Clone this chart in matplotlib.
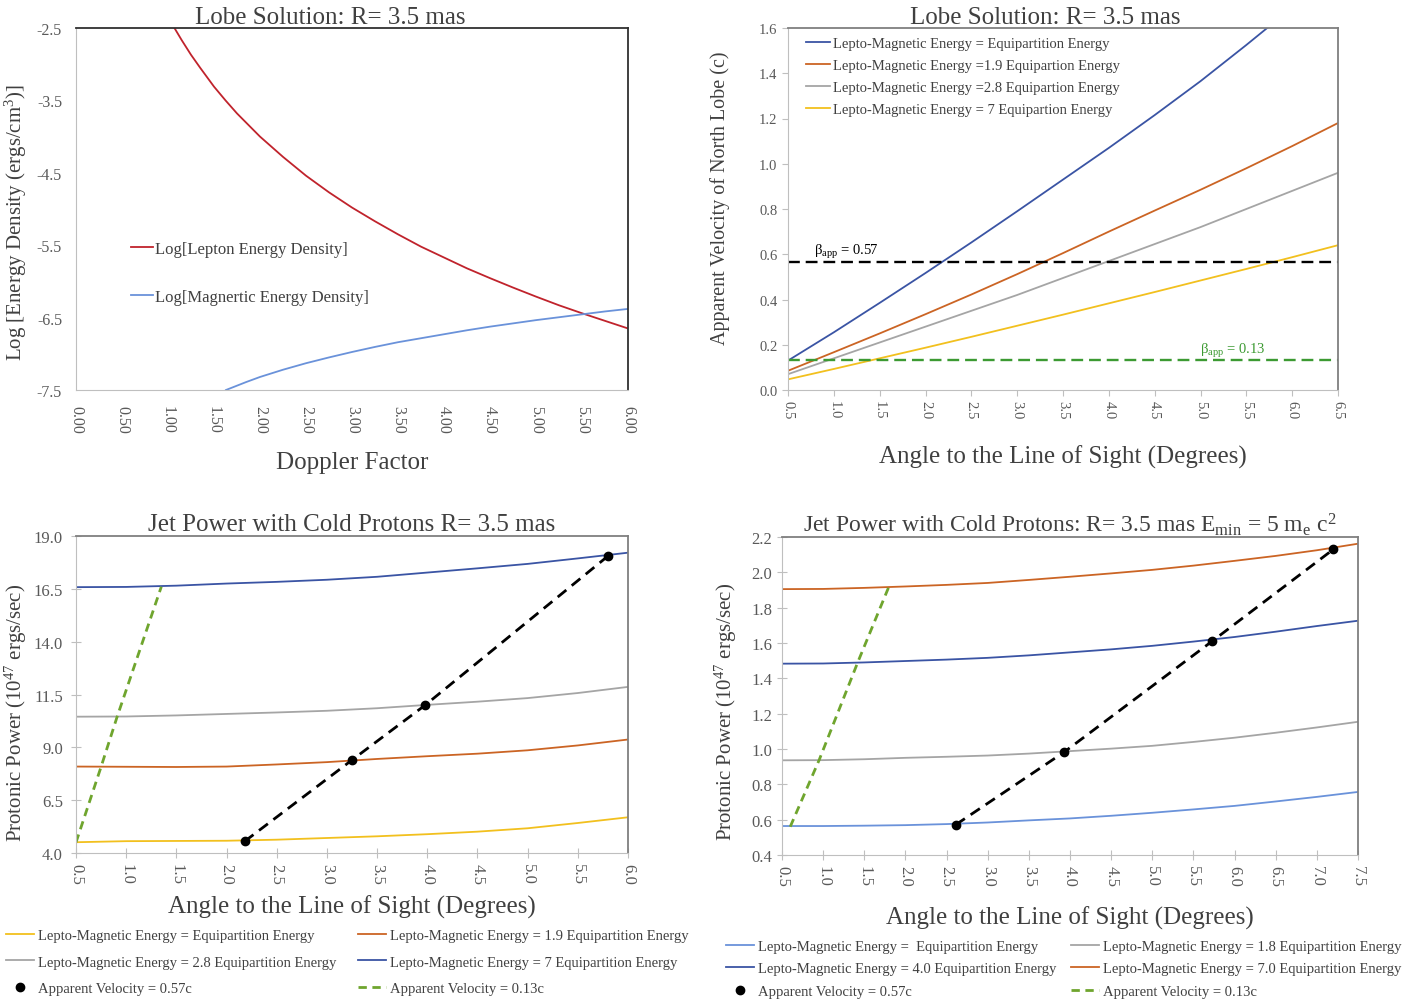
import numpy as np
import matplotlib
matplotlib.use("Agg")
import matplotlib.pyplot as plt
from matplotlib.lines import Line2D
from matplotlib.ticker import FormatStrFormatter

plt.rcParams["font.family"] = ["Liberation Serif", "DejaVu Serif"]
plt.rcParams["mathtext.fontset"] = "custom"
plt.rcParams["mathtext.rm"] = "Liberation Serif"
plt.rcParams["mathtext.it"] = "Liberation Serif:italic"
plt.rcParams["axes.unicode_minus"] = False

# ---- panel 1: lobe energy densities vs Doppler factor
doppler_lep = [1.07, 1.15, 1.25, 1.35, 1.5, 1.625, 1.75, 1.875, 2.0, 2.25, 2.5, 2.75, 3.0,
               3.25, 3.5, 3.75, 4.0, 4.25, 4.5, 4.75, 5.0, 5.25, 5.5, 5.75, 6.0]
log_lepton = [-2.5, -2.67, -2.87, -3.05, -3.31, -3.5, -3.68, -3.84, -4.0, -4.28, -4.54,
              -4.77, -4.98, -5.17, -5.35, -5.52, -5.67, -5.82, -5.955, -6.085, -6.21,
              -6.33, -6.44, -6.545, -6.65]
doppler_mag = [1.63, 1.69, 1.75, 1.85, 2.0, 2.25, 2.5, 2.75, 3.0, 3.25, 3.5, 3.75, 4.0,
               4.25, 4.5, 4.75, 5.0, 5.25, 5.5, 5.75, 6.0]
log_magnetic = [-7.5, -7.47, -7.44, -7.39, -7.32, -7.22, -7.13, -7.05, -6.975, -6.905,
                -6.84, -6.785, -6.73, -6.675, -6.625, -6.58, -6.535, -6.495, -6.455,
                -6.415, -6.38]

# ---- panel 2: apparent velocity vs angle
angle_v = [0.5, 1.0, 1.5, 2.0, 2.5, 3.0, 3.5, 4.0, 4.5, 5.0, 5.5, 6.0, 6.5]
vel_eq = [0.13, 0.255, 0.385, 0.517, 0.652, 0.79, 0.93, 1.07, 1.215, 1.365, 1.525, 1.69, 1.86]
vel_19 = [0.085, 0.167, 0.25, 0.335, 0.422, 0.512, 0.605, 0.70, 0.793, 0.885, 0.98, 1.078, 1.18]
vel_28 = [0.07, 0.14, 0.21, 0.28, 0.35, 0.42, 0.495, 0.57, 0.645, 0.72, 0.80, 0.88, 0.96]
vel_7 = [0.047, 0.093, 0.14, 0.187, 0.235, 0.284, 0.333, 0.383, 0.433, 0.484, 0.535, 0.587, 0.64]
beta_hi = 0.565
beta_lo = 0.132

# ---- panel 3: jet power (cold protons)
angle_p = [0.5, 1.0, 1.5, 2.0, 2.5, 3.0, 3.5, 4.0, 4.5, 5.0, 5.5, 6.0]
pow_eq = [4.51, 4.56, 4.57, 4.58, 4.63, 4.71, 4.79, 4.89, 5.01, 5.17, 5.42, 5.69]
pow_19 = [8.09, 8.08, 8.07, 8.09, 8.19, 8.30, 8.45, 8.58, 8.70, 8.86, 9.09, 9.37]
pow_28 = [10.45, 10.46, 10.51, 10.58, 10.65, 10.73, 10.85, 11.01, 11.16, 11.33, 11.57, 11.86]
pow_7 = [16.58, 16.59, 16.65, 16.75, 16.83, 16.93, 17.07, 17.27, 17.47, 17.68, 17.94, 18.21]
fast_x = [2.18, 3.25, 3.98, 5.80]
fast_y = [4.55, 8.40, 11.0, 18.05]
slow_x = [0.5, 0.75, 0.91, 1.35]
slow_y = [4.5, 8.08, 10.45, 16.6]

# ---- panel 4: jet power, E_min = 5 m_e c^2
angle_q = [0.5, 1.0, 1.5, 2.0, 2.5, 3.0, 3.5, 4.0, 4.5, 5.0, 5.5, 6.0, 6.5, 7.0, 7.5]
qpow_eq = [0.564, 0.564, 0.566, 0.569, 0.575, 0.584, 0.596, 0.607, 0.622, 0.639, 0.658,
           0.678, 0.703, 0.729, 0.757]
qpow_18 = [0.936, 0.937, 0.942, 0.950, 0.956, 0.963, 0.974, 0.988, 1.002, 1.018, 1.040,
           1.064, 1.092, 1.122, 1.154]
qpow_40 = [1.483, 1.484, 1.490, 1.498, 1.506, 1.516, 1.530, 1.547, 1.564, 1.584, 1.608,
           1.634, 1.664, 1.696, 1.726]
qpow_70 = [1.905, 1.906, 1.912, 1.920, 1.929, 1.940, 1.957, 1.975, 1.994, 2.014, 2.038,
           2.065, 2.093, 2.125, 2.162]
qfast_x = [2.61, 3.93, 5.73, 7.20]
qfast_y = [0.571, 0.983, 1.611, 2.13]
qslow_x = [0.6, 0.95, 1.42, 1.80]
qslow_y = [0.56, 0.936, 1.49, 1.92]

W, H = 1422, 1003
TXT = "#404040"
TICK = "#595959"
RED = "#C0232C"
LBLUE = "#6A92DA"
DBLUE = "#3A54A4"
ORANGE = "#CB6424"
GRAY = "#A5A5A5"
YELLOW = "#F2C01E"
GREEN2 = "#3C9A32"
OLIVE = "#6FA52E"

fig = plt.figure(figsize=(W / 100, H / 100), dpi=100)


def px_axes(l, t, r, b):
    return fig.add_axes([l / W, 1 - b / H, (r - l) / W, (b - t) / H])


def style(ax, dark_frame, tsize):
    for s in ("left", "bottom"):
        ax.spines[s].set_color("#BFBFBF")
    for s in ("top", "right"):
        ax.spines[s].set_color(dark_frame)
        ax.spines[s].set_linewidth(1.3)
    ax.tick_params(colors="#BFBFBF", labelcolor=TICK, labelsize=tsize, length=4)
    plt.setp(ax.get_xticklabels(), rotation=-90)


def xlabel(ax, text, y, size=18):
    ax.set_xlabel(text, fontsize=size, color=TXT, va="center")
    ax.xaxis.set_label_coords(0.5, y)


def ylabel(ax, text, x, yc=0.5, size=14.5):
    ax.set_ylabel(text, fontsize=size, color=TXT, va="center")
    ax.yaxis.set_label_coords(x, yc)


def legend_col(cols, x0, y0, spacing):
    lg = fig.legend([h for h, _ in cols], [s for _, s in cols], loc="upper left",
                    bbox_to_anchor=(x0 / W, 1 - y0 / H), frameon=False, fontsize=10.5,
                    handlelength=1.9, handletextpad=0.3, labelspacing=spacing, borderpad=0,
                    borderaxespad=0)
    for t in lg.get_texts():
        t.set_color(TXT)


# ---------------- panel 1
ax1 = px_axes(76, 29, 628, 391)
ax1.plot(doppler_lep, log_lepton, color=RED, lw=1.3, label="Log[Lepton Energy Density]")
ax1.plot(doppler_mag, log_magnetic, color=LBLUE, lw=1.3, label="Log[Magnertic Energy Density]")
ax1.set_xlim(0, 6)
ax1.set_ylim(-7.5, -2.5)
ax1.set_xticks(np.arange(0, 6.01, 0.5))
ax1.set_yticks([-7.5, -6.5, -5.5, -4.5, -3.5, -2.5])
ax1.xaxis.set_major_formatter(FormatStrFormatter("%.2f"))
ax1.yaxis.set_major_formatter(FormatStrFormatter("%.1f"))
style(ax1, "#303030", 11.5)
ax1.tick_params(length=0)
ax1.tick_params(axis="y", pad=10)
ax1.tick_params(axis="x", pad=11)
ax1.set_title("Lobe Solution: R= 3.5 mas", fontsize=18, color=TXT, pad=3,
              x=(330 - 76) / 552)
xlabel(ax1, "Doppler Factor", -(463 - 391) / 362)
ylabel(ax1, "Log [Energy Density (ergs/cm$^3$)]", -(76 - 16) / 552, 0.464, 15)
leg = ax1.legend(loc="upper left", bbox_to_anchor=(0.085, 0.435), frameon=False, fontsize=12,
                 handlelength=1.3, handletextpad=0.15, labelspacing=1.93, borderpad=0)
for t in leg.get_texts():
    t.set_color(TXT)

# ---------------- panel 2
ax2 = px_axes(788, 29, 1338, 391)
ax2.plot(angle_v, vel_eq, color=DBLUE, lw=1.3, label="Lepto-Magnetic Energy = Equipartition Energy")
ax2.plot(angle_v, vel_19, color=ORANGE, lw=1.3, label="Lepto-Magnetic Energy =1.9 Equipartion Energy")
ax2.plot(angle_v, vel_28, color=GRAY, lw=1.3, label="Lepto-Magnetic Energy =2.8 Equipartion Energy")
ax2.plot(angle_v, vel_7, color=YELLOW, lw=1.3, label="Lepto-Magnetic Energy = 7 Equipartion Energy")
ax2.plot([angle_v[0], angle_v[-1]], [beta_hi, beta_hi], color="black", lw=1.7, ls=(0, (5, 2.5)))
ax2.plot([angle_v[0], angle_v[-1]], [beta_lo, beta_lo], color=GREEN2, lw=1.7, ls=(0, (5, 2.5)))
ax2.text(0.78, 0.60, r"β$_{\mathrm{app}}$ = 0.57", fontsize=10.5, color="black")
ax2.text(4.99, 0.165, r"β$_{\mathrm{app}}$ = 0.13", fontsize=10.5, color=GREEN2)
ax2.set_xlim(0.5, 6.5)
ax2.set_ylim(0, 1.6)
ax2.set_xticks(np.arange(0.5, 6.51, 0.5))
ax2.set_yticks(np.arange(0, 1.61, 0.2))
ax2.xaxis.set_major_formatter(FormatStrFormatter("%.1f"))
ax2.yaxis.set_major_formatter(FormatStrFormatter("%.1f"))
style(ax2, "#7F7F7F", 10.5)
ax2.set_title("Lobe Solution: R= 3.5 mas", fontsize=18, color=TXT, pad=3,
              x=(1045 - 788) / 550)
xlabel(ax2, "Angle to the Line of Sight (Degrees)", -(457 - 391) / 362)
ylabel(ax2, "Apparent Velocity of North Lobe (c)", -(788 - 720) / 550, 0.533, 14.5)
leg = ax2.legend(loc="upper left", bbox_to_anchor=(0.02, 0.995), frameon=False, fontsize=10.5,
                 handlelength=1.6, handletextpad=0.2, labelspacing=0.6, borderpad=0)
for t in leg.get_texts():
    t.set_color(TXT)

# ---------------- panel 3
ax3 = px_axes(76, 537, 628, 854)
l_eq, = ax3.plot(angle_p, pow_eq, color=YELLOW, lw=1.3)
l_19, = ax3.plot(angle_p, pow_19, color=ORANGE, lw=1.3)
l_28, = ax3.plot(angle_p, pow_28, color=GRAY, lw=1.3)
l_7, = ax3.plot(angle_p, pow_7, color=DBLUE, lw=1.3)
ax3.plot(fast_x, fast_y, color="black", lw=2, ls=(0, (4, 2.5)), marker="o", ms=6)
ax3.plot(slow_x, slow_y, color=OLIVE, lw=2, ls=(0, (3, 2)))
ax3.set_xlim(0.5, 6.0)
ax3.set_ylim(4.0, 19.0)
ax3.set_xticks(np.arange(0.5, 6.01, 0.5))
ax3.set_yticks(np.arange(4.0, 19.01, 2.5))
ax3.xaxis.set_major_formatter(FormatStrFormatter("%.1f"))
ax3.yaxis.set_major_formatter(FormatStrFormatter("%.1f"))
style(ax3, "#7F7F7F", 12)
ax3.tick_params(direction="inout", length=7)
ax3.tick_params(axis="y", pad=6)
ax3.set_title("Jet Power with Cold Protons R= 3.5 mas", fontsize=18, color=TXT, pad=4)
xlabel(ax3, "Angle to the Line of Sight (Degrees)", -(907 - 854) / 317)
ylabel(ax3, "Protonic Power (10$^{47}$ ergs/sec)", -(76 - 16) / 552, 0.446, 15)

dot = Line2D([], [], color="black", marker="o", ls="none", ms=6)
dash3 = Line2D([], [], color=OLIVE, lw=2, ls=(0, (3, 2)))
legend_col([(l_eq, "Lepto-Magnetic Energy = Equipartition Energy"),
            (l_28, "Lepto-Magnetic Energy = 2.8 Equipartition Energy"),
            (dot, "Apparent Velocity = 0.57c")], 6, 930, 0.9)
legend_col([(l_19, "Lepto-Magnetic Energy = 1.9 Equipartition Energy"),
            (l_7, "Lepto-Magnetic Energy = 7 Equipartition Energy"),
            (dash3, "Apparent Velocity = 0.13c")], 358, 930, 0.9)

# ---------------- panel 4
ax4 = px_axes(782, 538, 1358, 856)
m_eq, = ax4.plot(angle_q, qpow_eq, color=LBLUE, lw=1.3)
m_18, = ax4.plot(angle_q, qpow_18, color=GRAY, lw=1.3)
m_40, = ax4.plot(angle_q, qpow_40, color=DBLUE, lw=1.3)
m_70, = ax4.plot(angle_q, qpow_70, color=ORANGE, lw=1.3)
ax4.plot(qfast_x, qfast_y, color="black", lw=2, ls=(0, (4, 2.5)), marker="o", ms=6)
ax4.plot(qslow_x, qslow_y, color=OLIVE, lw=2, ls=(0, (3, 2)))
ax4.set_xlim(0.5, 7.5)
ax4.set_ylim(0.4, 2.2)
ax4.set_xticks(np.arange(0.5, 7.51, 0.5))
ax4.set_yticks(np.arange(0.4, 2.21, 0.2))
ax4.xaxis.set_major_formatter(FormatStrFormatter("%.1f"))
ax4.yaxis.set_major_formatter(FormatStrFormatter("%.1f"))
style(ax4, "#7F7F7F", 12)
ax4.tick_params(direction="inout", length=7)
ax4.set_title(r"Jet Power with Cold Protons: R= 3.5 mas E$_{\mathrm{min}}$ = 5 m$_{\mathrm{e}}$ c$^2$",
              fontsize=17, color=TXT, pad=4)
xlabel(ax4, "Angle to the Line of Sight (Degrees)", -(918 - 856) / 318)
ylabel(ax4, "Protonic Power (10$^{47}$ ergs/sec)", -(782 - 726) / 576, 0.453, 15)

legend_col([(m_eq, "Lepto-Magnetic Energy =  Equipartition Energy"),
            (m_40, "Lepto-Magnetic Energy = 4.0 Equipartition Energy"),
            (dot, "Apparent Velocity = 0.57c")], 726, 941, 0.62)
legend_col([(m_18, "Lepto-Magnetic Energy = 1.8 Equipartition Energy"),
            (m_70, "Lepto-Magnetic Energy = 7.0 Equipartition Energy"),
            (dash3, "Apparent Velocity = 0.13c")], 1071, 941, 0.62)

fig.savefig("out.png", dpi=100)
